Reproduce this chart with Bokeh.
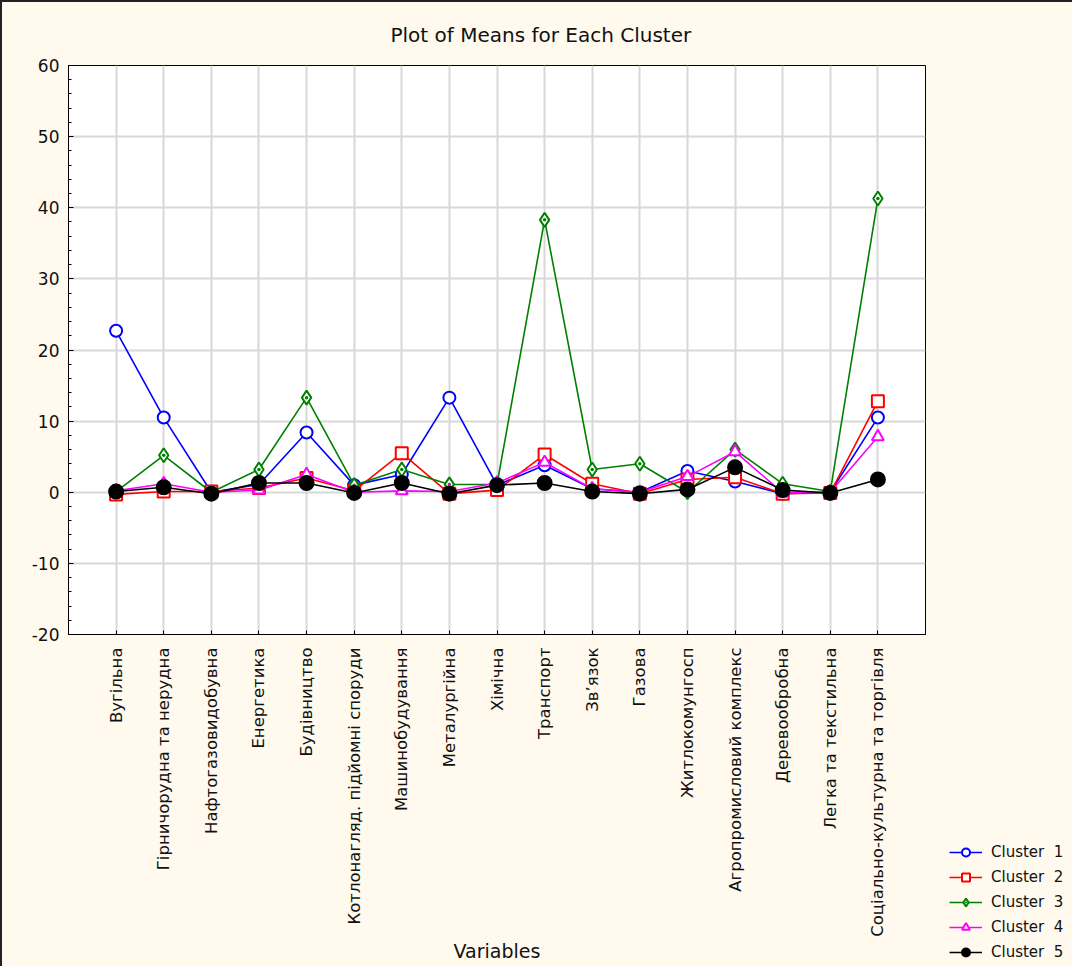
import math
from bokeh.plotting import figure
from bokeh.layouts import row
from bokeh.models import Range1d, FixedTicker, SingleIntervalTicker, Legend, LegendItem
from bokeh.embed import file_html
from bokeh.resources import INLINE

variables = ["Вугільна", "Гірничорудна та нерудна", "Нафтогазовидобувна", "Енергетика",
             "Будівництво", "Котлонагляд. підйомні споруди", "Машинобудування",
             "Металургійна", "Хімічна", "Транспорт", "Зв’язок", "Газова",
             "Житлокомунгосп", "Агропромисловий комплекс", "Деревообробна",
             "Легка та текстильна", "Соціально-культурна та торгівля"]

cluster1 = [22.7, 10.5, 0.0, 1.1, 8.4, 1.0, 2.5, 13.3, 1.0, 3.8, 0.5, 0.0, 3.0, 1.5, -0.2, 0.0, 10.5]
cluster2 = [-0.3, 0.1, 0.1, 0.6, 2.0, 0.2, 5.5, -0.2, 0.3, 5.3, 1.2, -0.2, 1.8, 2.1, -0.2, -0.1, 12.8]
cluster3 = [0.1, 5.2, 0.0, 3.2, 13.3, 1.0, 3.2, 1.1, 1.1, 38.3, 3.2, 4.0, 0.0, 6.0, 1.2, 0.1, 41.3]
cluster4 = [0.2, 1.2, 0.0, 0.3, 2.5, 0.0, 0.2, 0.1, 1.3, 4.2, 0.5, 0.0, 2.2, 5.7, -0.1, 0.0, 7.8]
cluster5 = [0.1, 0.7, -0.2, 1.3, 1.3, -0.1, 1.3, -0.2, 1.0, 1.3, 0.1, -0.2, 0.4, 3.5, 0.3, -0.1, 1.8]

series_names = ["Cluster  1", "Cluster  2", "Cluster  3", "Cluster  4", "Cluster  5"]
y_ticks = [-20, -10, 0, 10, 20, 30, 40, 50, 60]

xs = list(range(1, len(variables) + 1))
FONT = "DejaVu Sans"
BG = "#FFF9EE"
TXT = "#111111"

p = figure(frame_width=857, frame_height=569,
           x_range=Range1d(0, len(variables) + 1), y_range=Range1d(-20, 60),
           output_backend="svg", toolbar_location=None,
           min_border_left=66, min_border_right=20, min_border_top=63, min_border_bottom=332,
           background_fill_color="white", border_fill_color=BG,
           outline_line_color="black", outline_line_width=1)

p.title.text = "Plot of Means for Each Cluster"
p.title.align = "left"
p.title.offset = 322
p.title.text_font = FONT
p.title.text_font_size = "20px"
p.title.text_font_style = "normal"
p.title.text_color = TXT
p.title.standoff = 37

# axes
p.xaxis.ticker = FixedTicker(ticks=xs)
p.xaxis.major_label_overrides = {i + 1: v for i, v in enumerate(variables)}
p.xaxis.major_label_orientation = math.pi / 2
p.xaxis.major_label_text_font = FONT
p.xaxis.major_label_text_font_size = "16.5px"
p.xaxis.major_label_text_color = TXT
p.xaxis.major_label_standoff = 13
p.xaxis.major_tick_in = 4
p.xaxis.major_tick_out = 0
p.xaxis.minor_tick_line_color = None
p.xaxis.axis_label = "Variables"
p.xaxis.axis_label_text_font = FONT
p.xaxis.axis_label_text_font_size = "19px"
p.xaxis.axis_label_text_font_style = "normal"
p.xaxis.axis_label_text_color = TXT
p.xaxis.axis_label_standoff = 0

p.yaxis.ticker = SingleIntervalTicker(interval=10, num_minor_ticks=5)
p.yaxis.major_label_overrides = {t: str(t) for t in y_ticks}
p.yaxis.major_label_text_font = FONT
p.yaxis.major_label_text_font_size = "17px"
p.yaxis.major_label_text_color = TXT
p.yaxis.major_label_standoff = 9
p.yaxis.major_tick_in = 5
p.yaxis.major_tick_out = 0
p.yaxis.minor_tick_in = 3
p.yaxis.minor_tick_out = 0

p.xgrid.ticker = FixedTicker(ticks=xs)
p.ygrid.ticker = FixedTicker(ticks=y_ticks)
p.grid.grid_line_color = "#D8D8D8"
p.grid.grid_line_width = 2

colors = ["#0000FF", "#FF0000", "#008000", "#FF00FF", "#000000"]
markers = ["circle", "square", "diamond_dot", "triangle", "circle"]
fills = ["white", "white", "white", "white", "black"]
sizes = [12, 12, 14, 12, 14]
data = [cluster1, cluster2, cluster3, cluster4, cluster5]

for ys, c, m, f, s in zip(data, colors, markers, fills, sizes):
    p.line(xs, ys, line_color=c, line_width=1.6)
    p.scatter(xs, ys, marker=m, size=s, line_color=c, fill_color=f, line_width=2)

# legend panel: a separate figure (its ranges keep the series out of view)
leg = figure(width=127, height=964, x_range=Range1d(1000, 1001), y_range=Range1d(1000, 1001),
             x_axis_type=None, y_axis_type=None, output_backend="svg", toolbar_location=None,
             min_border=0, outline_line_color=None, frame_align=False,
             background_fill_color=BG, border_fill_color=BG)

items = []
for name, ys, c, m, f, s in zip(series_names, data, colors, markers, fills, sizes):
    r1 = leg.line(xs, ys, line_color=c, line_width=1.6)
    r2 = leg.scatter(xs, ys, marker=m, size=s - 1, line_color=c, fill_color=f, line_width=2)
    items.append(LegendItem(label=name, renderers=[r1, r2]))

legend = Legend(items=items, location="bottom_left", orientation="vertical",
                background_fill_alpha=0, border_line_color=None,
                padding=0, margin=4, spacing=5, glyph_width=33, glyph_height=20,
                label_height=20, label_standoff=9,
                label_text_font=FONT, label_text_font_size="15px", label_text_color=TXT)
leg.add_layout(legend, "center")

layout = row(p, leg)
layout.styles = {"border-left": "2px solid #222222", "border-top": "2px solid #222222",
                 "background-color": BG}

open("out.html", "w").write(file_html(layout, INLINE))
